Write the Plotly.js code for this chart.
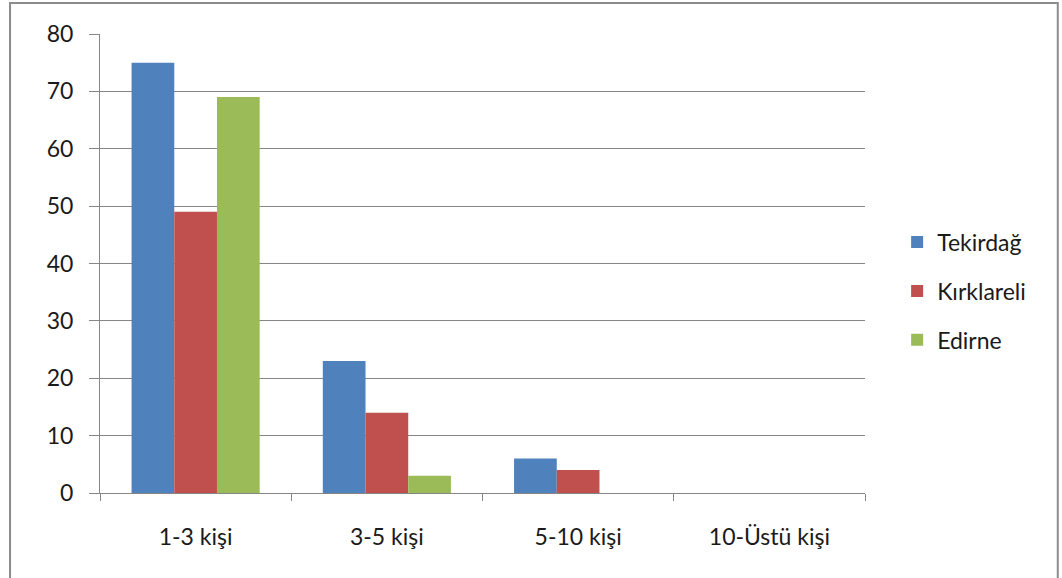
<!DOCTYPE html>
<html>
<head>
<meta charset="utf-8">
<script src="https://cdn.plot.ly/plotly-3.0.1.min.js"></script>
<style>html,body{margin:0;padding:0;background:#fff;}#chart{width:1062px;height:578px;}</style>
</head>
<body>
<div id="chart"></div>
<script>
const categories = ["1-3 kişi", "3-5 kişi", "5-10 kişi", "10-Üstü kişi"];
const tekirdag = [75, 23, 6, 0];
const kirklareli = [49, 14, 4, 0];
const edirne = [69, 3, 0, 0];
const seriesNames = ["Tekirdağ", "Kırklareli", "Edirne"];
const colors = ["#4F81BD", "#C0504D", "#9BBB59"];
const yTicks = [0, 10, 20, 30, 40, 50, 60, 70, 80];

const font = "Lato, Open Sans, sans-serif";
const fs = 23;
const seriesValues = [tekirdag, kirklareli, edirne];
const data = seriesValues.map((vals, i) => ({
  type: "bar",
  x: categories,
  y: vals,
  name: seriesNames[i],
  legendgroup: "g" + i,
  marker: {color: colors[i], line: {width: 0}},
  hoverinfo: "x+y+name"
}));

const layout = {
  width: 1062, height: 578,
  margin: {l: 100, r: 197, t: 34, b: 85},
  paper_bgcolor: "#ffffff",
  plot_bgcolor: "#ffffff",
  barmode: "group",
  bargap: 0.33,
  bargroupgap: 0,
  font: {family: font, size: fs, color: "#1a1a1a"},
  xaxis: {
    type: "category",
    tickson: "boundaries",
    ticks: "outside",
    ticklen: 7,
    tickcolor: "#868686",
    showline: true,
    linecolor: "#868686",
    linewidth: 1,
    showgrid: false,
    zeroline: false,
    tickfont: {family: font, size: fs, color: "#1a1a1a"},
    ticklabelstandoff: 23
  },
  yaxis: {
    range: [0, 80],
    tickvals: yTicks,
    ticks: "outside",
    ticklen: 10,
    tickcolor: "#868686",
    showline: true,
    linecolor: "#868686",
    linewidth: 1,
    showgrid: true,
    gridcolor: "#868686",
    gridwidth: 1,
    zeroline: false,
    tickfont: {family: font, size: fs, color: "#1a1a1a"},
    ticklabelstandoff: 11
  },
  legend: {
    x: 1.042, xanchor: "left",
    y: 0.44, yanchor: "middle",
    font: {family: font, size: fs, color: "#1a1a1a"},
    tracegroupgap: 16,
    bgcolor: "rgba(0,0,0,0)"
  },
  shapes: [{
    type: "rect", xref: "paper", yref: "paper",
    x0: -0.1176, x1: 1.252, y0: -0.3, y1: 1.0675,
    line: {color: "#8c8c8c", width: 2},
    fillcolor: "rgba(0,0,0,0)"
  }],
  showlegend: true
};

Plotly.newPlot("chart", data, layout, {displayModeBar: false, staticPlot: true});
</script>
</body>
</html>
